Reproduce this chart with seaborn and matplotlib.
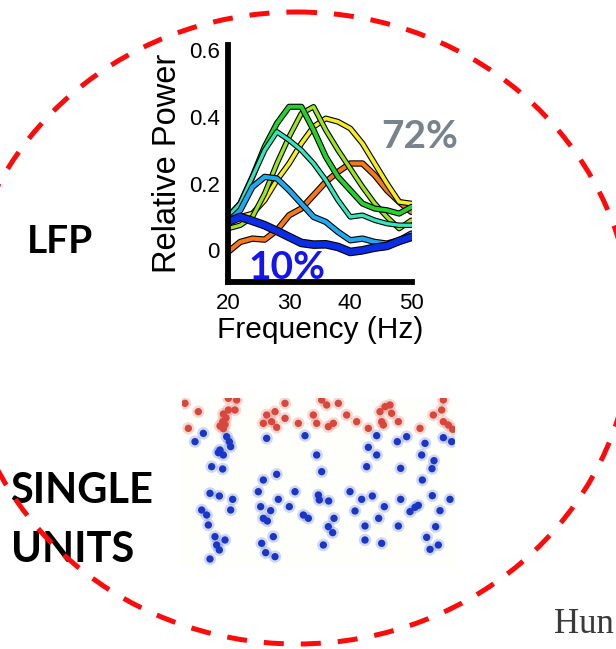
import matplotlib
matplotlib.use("Agg")
import matplotlib.pyplot as plt
import matplotlib.patheffects as pe
from matplotlib.patches import Ellipse
import seaborn as sns

# ---------------- LFP spectra (relative power vs frequency) ----------------
freq = [20, 22, 24, 26, 28, 30, 32, 34, 36, 38, 40, 42, 44, 46, 48, 50]
power_orange = [-0.005, 0.025, 0.035, 0.032, 0.06, 0.105, 0.125, 0.165, 0.205, 0.235, 0.26, 0.26, 0.225, 0.18, 0.145, 0.115]
power_yellow = [0.09, 0.10, 0.11, 0.15, 0.21, 0.26, 0.32, 0.37, 0.395, 0.385, 0.365, 0.32, 0.26, 0.20, 0.145, 0.14]
power_yellowgreen = [0.065, 0.075, 0.10, 0.17, 0.26, 0.34, 0.41, 0.43, 0.36, 0.30, 0.245, 0.19, 0.14, 0.10, 0.065, 0.09]
power_green = [0.10, 0.14, 0.22, 0.31, 0.38, 0.43, 0.43, 0.36, 0.28, 0.22, 0.18, 0.14, 0.125, 0.12, 0.11, 0.13]
power_teal = [0.10, 0.14, 0.22, 0.30, 0.355, 0.33, 0.30, 0.26, 0.21, 0.15, 0.10, 0.105, 0.09, 0.08, 0.075, 0.075]
power_lightblue = [0.085, 0.12, 0.19, 0.22, 0.215, 0.18, 0.14, 0.10, 0.085, 0.055, 0.03, 0.035, 0.025, 0.02, 0.03, 0.05]
power_darkblue = [0.085, 0.10, 0.088, 0.075, 0.058, 0.04, 0.022, 0.017, 0.018, 0.01, -0.005, 0.0, 0.008, 0.013, 0.028, 0.04]

curves = [
    (power_orange, "#f87814", 3.0),
    (power_yellow, "#f5ee1e", 2.6),
    (power_yellowgreen, "#9be41e", 2.4),
    (power_green, "#22d42a", 2.8),
    (power_teal, "#30e8bc", 2.4),
    (power_lightblue, "#1eaaf0", 3.0),
    (power_darkblue, "#0a2ee6", 4.6),
]

y_ticks = [0, 0.2, 0.4, 0.6]
y_tick_labels = ["0", "0.2", "0.4", "0.6"]
x_ticks = [20, 30, 40, 50]

# ---------------- single-unit raster (spike time, unit depth) ----------------
red_time = [45, 85, 55, 175, 200, 195, 175, 160, 168, 158, 165, 160, 150,
            290, 280, 315, 305, 320, 345, 345, 385,
            430, 440, 455, 470, 505, 475, 490, 530, 560, 595,
            630, 645, 660, 665, 635, 640, 685, 750, 790, 815, 820, 820, 835, 848]
red_depth = [40, 65, 115, 25, 30, 60, 60, 72, 84, 95, 104, 116, 108,
             75, 100, 65, 95, 112, 40, 85, 100,
             75, 100, 30, 45, 40, 110, 100, 75, 95, 115,
             65, 50, 45, 70, 95, 105, 95, 115, 75, 60, 30, 95, 105, 118]

blue_time = [100, 75, 170, 178, 182, 150, 160, 145,
             125, 158,
             120, 148, 188, 95, 110, 182, 115, 135, 165, 140, 148, 120,
             290, 405, 440, 455, 320, 280,
             265, 325, 375, 445, 448, 476, 272, 302, 280, 292, 358, 400, 415, 492, 475, 488, 310, 275, 287, 315, 460,
             620, 595, 620, 682, 710, 765, 755, 792, 590, 692, 786, 757, 820, 845,
             540, 575, 607, 643, 555, 626, 585, 685, 585, 635, 692, 720, 735, 745, 787, 840, 810, 797, 770, 780, 805]
blue_depth = [130, 155, 140, 155, 170, 180, 195, 188,
              230, 237,
              310, 318, 328, 360, 375, 360, 405, 440, 450, 465, 480, 507,
              145, 137, 195, 245, 253, 270,
              305, 328, 305, 315, 330, 333, 350, 362, 385, 393, 350, 375, 385, 385, 410, 428, 440, 460, 488, 500, 465,
              137, 172, 195, 155, 140, 160, 195, 212, 230, 235, 236, 270, 143, 155,
              305, 328, 318, 350, 363, 385, 408, 408, 450, 460, 328, 365, 352, 346, 317, 328, 362, 410, 442, 478, 465]

# ---------------- figure ----------------
sns.set_theme(style="white")
plt.rcParams["font.family"] = ["Liberation Sans", "DejaVu Sans"]

W, H = 616, 649
fig = plt.figure(figsize=(W / 100, H / 100), dpi=100)
fig.patch.set_facecolor("white")


def px_axes(x0, y0, x1, y1):
    return fig.add_axes([x0 / W, 1 - y1 / H, (x1 - x0) / W, (y1 - y0) / H])


# LFP panel
ax = px_axes(228, 45, 412, 282)
ax.set_facecolor("white")
for i, (vals, col, lw) in enumerate(curves):
    sns.lineplot(x=freq, y=vals, color=col, linewidth=lw, ax=ax, zorder=2 + i,
                 path_effects=[pe.Stroke(linewidth=lw + 1.6, foreground="black"), pe.Normal()])
ax.set_xlim(20, 50.1)
ax.set_ylim(-0.095, 0.615)
ax.set_xticks(x_ticks)
ax.set_yticks(y_ticks)
ax.set_yticklabels(y_tick_labels)
for s in ["top", "right"]:
    ax.spines[s].set_visible(False)
for s in ["left", "bottom"]:
    ax.spines[s].set_linewidth(4.2)
    ax.spines[s].set_color("black")
    ax.spines[s].set_zorder(20)
ax.tick_params(axis="both", length=0, labelsize=16, colors="black")
ax.tick_params(axis="x", pad=8)
ax.tick_params(axis="y", pad=6)
ax.set_xlabel("Frequency (Hz)", fontsize=21.5, labelpad=1, color="black")
ax.set_ylabel("Relative Power", fontsize=23.5, labelpad=4, color="black")
ax.grid(False)

# raster panel
rx = px_axes(182, 398, 455, 567)
rx.set_facecolor("#fefefa")
sns.scatterplot(x=red_time, y=red_depth, color="#e06a60", s=80, alpha=0.25, edgecolor="none", ax=rx, legend=False)
sns.scatterplot(x=red_time, y=red_depth, color="#d9463c", s=28, edgecolor="none", ax=rx, legend=False)
sns.scatterplot(x=blue_time, y=blue_depth, color="#4a6ae0", s=80, alpha=0.25, edgecolor="none", ax=rx, legend=False)
sns.scatterplot(x=blue_time, y=blue_depth, color="#1a36c8", s=28, edgecolor="none", ax=rx, legend=False)
rx.set_xlim(36, 855)
rx.set_ylim(531, 24)
rx.set_xticks([])
rx.set_yticks([])
rx.set_xlabel("")
rx.set_ylabel("")
for s in rx.spines.values():
    s.set_visible(False)

# overlay: labels and dashed ellipse
ov = fig.add_axes([0, 0, 1, 1])
ov.set_xlim(0, W)
ov.set_ylim(H, 0)
ov.axis("off")
ov.patch.set_alpha(0)

bold = dict(fontfamily="Lato", fontweight="bold", va="baseline", ha="left")
ov.text(27, 253, "LFP", fontsize=28, color="black", **bold)
ov.text(10, 503, "SINGLE", fontsize=30, color="black", **bold)
ov.text(11, 562, "UNITS", fontsize=30, color="black", **bold)
ov.text(381, 148, "72%", fontsize=28, color="#78838e", **bold)
ov.text(248, 279, "10%", fontsize=28, color="#1414f0", zorder=25, **bold)
ov.text(614, 633, "Hun", fontsize=25, color="#3a3a3a", fontfamily="Liberation Serif",
        va="baseline", ha="right")

ov.add_patch(Ellipse((297, 328), 670, 632, fill=False, edgecolor="#ff0a0a",
                     linewidth=3.6, linestyle=(0, (4, 3.4)), zorder=30))

fig.savefig("out.png", dpi=100)
